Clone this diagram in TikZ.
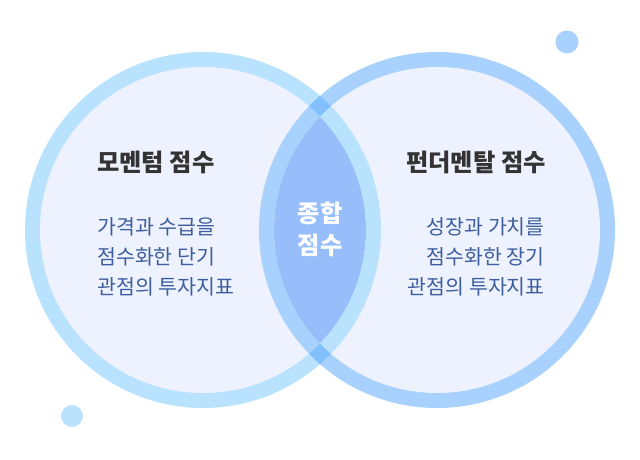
\documentclass[tikz,border=0pt]{standalone}
\usepackage{fontspec}
\newfontfamily\kr{Noto Sans CJK KR}
\definecolor{leftring}{HTML}{B8E2FD}
\definecolor{rightring}{HTML}{A8D1FD}
\definecolor{crossring}{HTML}{82C0FD}
\definecolor{innerfill}{HTML}{EEF2FE}
\definecolor{lensfill}{HTML}{97BDFA}
\definecolor{titlegray}{HTML}{333333}
\definecolor{descblue}{HTML}{3D5E9E}
\begin{document}
\begin{tikzpicture}[x=0.75pt,y=-0.75pt,
            title/.style={font=\kr\bfseries\fontsize{18.2}{22}\selectfont, text=titlegray, inner sep=0pt},
            desc/.style={font=\kr\fontsize{15.4}{22.5}\selectfont, text=descblue, inner sep=0pt},
            center/.style={font=\kr\bfseries\fontsize{18.2}{24}\selectfont, text=white, inner sep=0pt, align=center}
            ]
            \useasboundingbox[fill=white] (0,0) rectangle (640,460);
            \def\ro{178}
            \def\ri{163}
            \coordinate (L) at (203,230);
            \coordinate (R) at (437,230);

            % rings and inner areas
            \fill[leftring] (L) circle (\ro);
            \fill[rightring] (R) circle (\ro);
            \fill[innerfill] (L) circle (\ri);
            \fill[innerfill] (R) circle (\ri);
            \begin{scope}
                \clip (L) circle (\ri);
                \fill[lensfill] (R) circle (\ri);
                \fill[rightring, even odd rule] (R) circle (\ro) (R) circle (\ri);
            \end{scope}
            \begin{scope}
                \clip (R) circle (\ri);
                \fill[leftring, even odd rule] (L) circle (\ro) (L) circle (\ri);
            \end{scope}
            \begin{scope}[even odd rule]
                \clip (L) circle (\ro) (L) circle (\ri);
                \fill[crossring] (R) circle (\ro) (R) circle (\ri);
            \end{scope}

            \fill[rightring] (567,42) circle (11.5);
            \fill[leftring] (72,416) circle (11);

            \node[title, anchor=west] (lt) at (97,162) {모멘텀 점수};
            \node[desc, anchor=west, align=left] (ld) at (97,257) {가격과 수급을\\점수화한 단기\\관점의 투자지표};
            \node[title, anchor=east] (rt) at (546,162) {펀더멘탈 점수};
            \node[desc, anchor=east, align=right] (rd) at (545,257) {성장과 가치를\\점수화한 장기\\관점의 투자지표};
            \node[center] (mid) at (320,229) {종합\\점수};
\end{tikzpicture}
\end{document}
